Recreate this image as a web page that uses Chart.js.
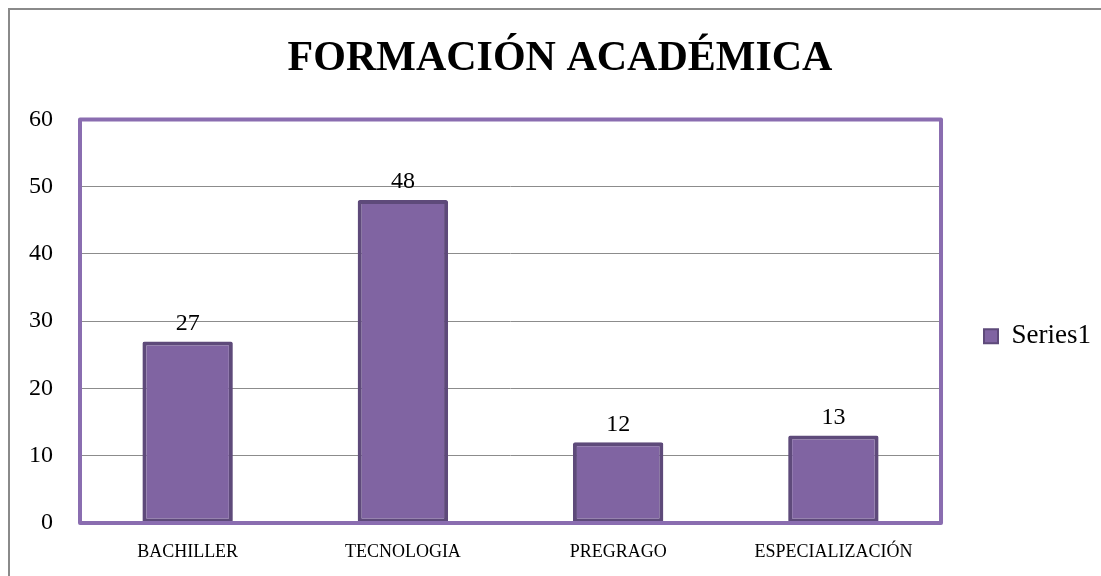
<!DOCTYPE html>
<html>
<head>
<meta charset="utf-8">
<script src="https://cdn.jsdelivr.net/npm/chart.js@4.4.0/dist/chart.umd.min.js"></script>
<style>
  html, body { margin: 0; padding: 0; background: #fff; }
  #wrap { width: 1101px; height: 576px; }
</style>
</head>
<body>
<div id="wrap"><canvas id="formacion-chart" width="1101" height="576"></canvas></div>
<script>
const categories = ['BACHILLER', 'TECNOLOGIA', 'PREGRAGO', 'ESPECIALIZACIÓN']
const series1 = [27, 48, 12, 13]
const yTicks = [0, 10, 20, 30, 40, 50, 60]

const serif = "'Liberation Serif', 'DejaVu Serif', serif"

const colors = {
  fill: '#8064A2',
  edge: '#5E4A7A',
  frame: '#8A6DB0',
  grid: '#8C8C8C',
  outer: '#8A8A8A'
}

// outer grey frame + purple plot border
const framePlugin = {
  id: 'frame',
  beforeDraw(chart) {
    const c = chart.ctx
    c.save()
    c.strokeStyle = colors.outer
    c.lineWidth = 2
    c.beginPath()
    c.moveTo(9, 576)
    c.lineTo(9, 9)
    c.lineTo(1101, 9)
    c.stroke()
    c.restore()
  },
  afterDraw(chart) {
    const a = chart.chartArea
    const c = chart.ctx
    c.save()
    c.strokeStyle = colors.frame
    c.lineWidth = 4
    c.lineJoin = 'round'
    c.strokeRect(a.left, a.top, a.right - a.left, a.bottom - a.top)
    c.restore()
  }
}

const valueLabels = {
  id: 'valueLabels',
  afterDatasetsDraw(chart) {
    const c = chart.ctx
    const meta = chart.getDatasetMeta(0)
    c.save()
    c.font = '24px ' + serif
    c.fillStyle = '#000'
    c.textAlign = 'center'
    c.textBaseline = 'bottom'
    meta.data.forEach((bar, i) => {
      c.fillText(series1[i], bar.x, bar.y - 6)
    })
    c.restore()
  }
}

new Chart(document.getElementById('formacion-chart'), {
  type: 'bar',
  data: {
    labels: categories,
    datasets: [{
      label: 'Series1',
      data: series1,
      backgroundColor: colors.fill,
      borderColor: colors.edge,
      borderWidth: 4,
      borderRadius: 2,
      borderSkipped: false,
      categoryPercentage: 1,
      barPercentage: 0.42
    }]
  },
  options: {
    responsive: false,
    animation: false,
    layout: { padding: { left: 19, right: 0, top: 0, bottom: 10 } },
    scales: {
      x: {
        grid: { display: false },
        border: { display: true, color: colors.grid, width: 1 },
        ticks: { color: '#000', font: { family: serif, size: 18 }, padding: 10 },
        afterFit: s => { s.height = 43 }
      },
      y: {
        min: 0,
        max: 60,
        afterBuildTicks: s => { s.ticks = yTicks.map(v => ({ value: v })) },
        grid: { color: colors.grid, drawTicks: false, lineWidth: 1 },
        border: { display: false },
        ticks: { color: '#000', font: { family: serif, size: 24 }, padding: 27 },
        afterFit: s => { s.width = 61 }
      }
    },
    plugins: {
      title: {
        display: true,
        text: 'FORMACIÓN ACADÉMICA',
        color: '#000',
        font: { family: serif, size: 42, weight: 'bold' },
        padding: { top: 34, bottom: 35 }
      },
      legend: {
        position: 'right',
        fullSize: false,
        title: {
          display: true,
          text: ' ',
          font: { size: 10 },
          padding: { top: 9, bottom: 9 }
        },
        labels: {
          color: '#000',
          font: { family: serif, size: 27 },
          boxWidth: 14,
          boxHeight: 14,
          padding: 43,
          generateLabels: chart => [{
            text: 'Series1',
            fillStyle: colors.fill,
            strokeStyle: colors.edge,
            fontColor: '#000',
            lineWidth: 2,
            datasetIndex: 0
          }]
        }
      },
      tooltip: { enabled: false }
    }
  },
  plugins: [framePlugin, valueLabels]
})
</script>
</body>
</html>
